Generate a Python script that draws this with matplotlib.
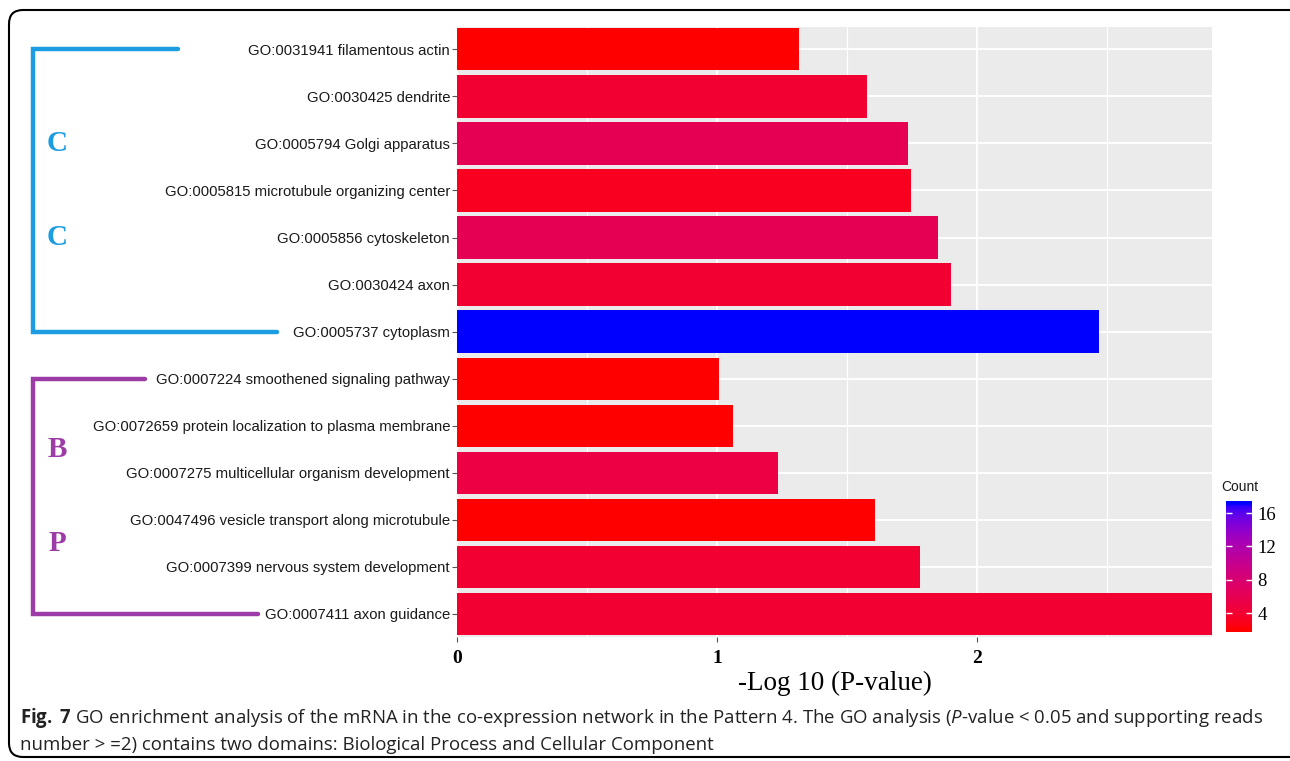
import numpy as np
import matplotlib
matplotlib.use("Agg")
import matplotlib.pyplot as plt
import matplotlib.transforms as mtransforms
from matplotlib.colors import ListedColormap, Normalize
from matplotlib.patches import FancyBboxPatch
from matplotlib.lines import Line2D

# dane (od góry do dołu)
terms = [
    "GO:0031941 filamentous actin",
    "GO:0030425 dendrite",
    "GO:0005794 Golgi apparatus",
    "GO:0005815 microtubule organizing center",
    "GO:0005856 cytoskeleton",
    "GO:0030424 axon",
    "GO:0005737 cytoplasm",
    "GO:0007224 smoothened signaling pathway",
    "GO:0072659 protein localization to plasma membrane",
    "GO:0007275 multicellular organism development",
    "GO:0047496 vesicle transport along microtubule",
    "GO:0007399 nervous system development",
    "GO:0007411 axon guidance",
]
neg_log_p = [1.317, 1.578, 1.736, 1.746, 1.849, 1.900, 2.470,
             1.008, 1.063, 1.236, 1.610, 1.783, 2.905]
counts = [2, 4, 6, 3, 6, 4, 17, 2, 2, 5, 2, 4, 4]

count_ticks = [4, 8, 12, 16]
x_ticks = [0, 1, 2]

# grupy domen GO: (pierwszy, ostatni indeks, litery, pozycje liter, kolor, końce klamry w px)
groups = [
    (0, 6, ["C", "C"], [2, 4], "#1c9de2", (178, 277)),
    (7, 12, ["B", "P"], [8.5, 10.5], "#9c3ca6", (145, 258)),
]

caption = (r"$\mathbf{Fig.}$ $\mathbf{7}$ GO enrichment analysis of the mRNA in the co-expression network in the Pattern 4. "
           r"The GO analysis ($\mathit{P}$-value < 0.05 and supporting reads")
caption2 = "number > =2) contains two domains: Biological Process and Cellular Component"


# gradient jak w ggplot (interpolacja w przestrzeni Lab)
M = np.array([[0.4124, 0.3576, 0.1805],
              [0.2126, 0.7152, 0.0722],
              [0.0193, 0.1192, 0.9505]])
WHITE = np.array([0.95047, 1.0, 1.08883])


def to_lab(rgb):
    rgb = np.asarray(rgb, float)
    lin = np.where(rgb <= 0.04045, rgb / 12.92, ((rgb + 0.055) / 1.055) ** 2.4)
    t = (M @ lin) / WHITE
    f = np.where(t > 0.008856, np.cbrt(t), 7.787 * t + 16 / 116)
    return np.array([116 * f[1] - 16, 500 * (f[0] - f[1]), 200 * (f[1] - f[2])])


def from_lab(lab):
    L, a, b = lab
    fy = (L + 16) / 116
    f = np.array([fy + a / 500, fy, fy - b / 200])
    t = np.where(f ** 3 > 0.008856, f ** 3, (f - 16 / 116) / 7.787)
    lin = np.clip(np.linalg.inv(M) @ (t * WHITE), 0, 1)
    rgb = np.where(lin <= 0.0031308, 12.92 * lin, 1.055 * lin ** (1 / 2.4) - 0.055)
    return np.clip(rgb, 0, 1)


lab_lo, lab_hi = to_lab([1, 0, 0]), to_lab([0, 0, 1])
cmap = ListedColormap([from_lab(lab_lo + (lab_hi - lab_lo) * s) for s in np.linspace(0, 1, 256)])
norm = Normalize(vmin=min(counts), vmax=max(counts))

plt.rcParams['font.family'] = ['Liberation Sans', 'DejaVu Sans']
plt.rcParams['mathtext.fontset'] = 'custom'
plt.rcParams['mathtext.rm'] = 'Open Sans'
plt.rcParams['mathtext.it'] = 'Open Sans:italic'
plt.rcParams['mathtext.bf'] = 'Open Sans:bold'

W, H = 1290, 761
fig = plt.figure(figsize=(W / 100, H / 100), dpi=100)

ax = fig.add_axes([457 / W, 1 - 637 / H, (1212 - 457) / W, (637 - 27) / H])
ax.set_facecolor('#ebebeb')
y = np.arange(len(terms))
ax.barh(y, neg_log_p, height=0.9, color=cmap(norm(counts)), zorder=3)
ax.set_xlim(0, 2.905)
ax.set_ylim(len(terms) - 0.51, -0.474)

ax.set_yticks(y)
ax.set_yticklabels(terms, fontsize=10.7, color='#1a1a1a')
ax.set_xticks(x_ticks)
ax.set_xticklabels([str(v) for v in x_ticks], fontsize=14, fontweight='bold',
                   family='Liberation Serif', color='black')
ax.set_xticks([0.5, 1.5, 2.5], minor=True)
ax.tick_params(axis='both', which='major', length=3.5, width=0.8, color='#555555', pad=1.5)
ax.tick_params(axis='x', which='major', pad=6)
ax.tick_params(axis='x', which='minor', length=0)
ax.grid(True, which='major', color='white', lw=1.3, zorder=1)
ax.grid(True, which='minor', axis='x', color='white', lw=0.8, zorder=1)
ax.set_axisbelow(True)
for s in ax.spines.values():
    s.set_visible(False)

ax.set_xlabel("-Log 10 (P-value)", fontsize=19.5, family='Liberation Serif')
ax.xaxis.set_label_coords(0.5, -0.056)

# klamry z oznaczeniem domen
tr = mtransforms.blended_transform_factory(fig.transFigure, ax.transData)
x0 = 33 / W
for first, last, letters, ly, col, (xe_top, xe_bot) in groups:
    line = Line2D([xe_top / W, x0, x0, xe_bot / W], [first, first, last, last],
                  transform=tr, color=col, lw=3.2, solid_capstyle='round',
                  solid_joinstyle='miter', clip_on=False)
    fig.lines.append(line)
    for letter, yy in zip(letters, ly):
        fig.text(57 / W, yy, letter, transform=tr, color=col, fontsize=21,
                 fontweight='bold', family='Liberation Serif', ha='center', va='center')

# pasek kolorów "Count"
cax = fig.add_axes([1226 / W, 1 - 632 / H, 26 / W, 131 / H])
lo, hi = 1.72, 17.44
grad = np.linspace(lo, hi, 300)[:, None]
cax.imshow(grad, extent=[0, 1, lo, hi], origin='lower', aspect='auto', cmap=cmap, norm=norm)
cax.set_xticks([])
cax.set_yticks(count_ticks)
cax.tick_params(axis='y', left=True, right=True, labelleft=False, labelright=True,
                direction='in', length=4.5, width=1, color='white', pad=4, labelsize=13.5)
for lab in cax.get_yticklabels():
    lab.set_family('Liberation Serif')
for s in cax.spines.values():
    s.set_visible(False)
fig.text(1221 / W, 1 - 487 / H, "Count", fontsize=10, ha='left', va='center', color='#1a1a1a')

# podpis
fig.text(20 / W, 1 - 718 / H, caption, fontsize=13.4, family='Open Sans', color='#222222',
         ha='left', va='center')
fig.text(20 / W, 1 - 745 / H, caption2, fontsize=13.4, family='Open Sans', color='#222222',
         ha='left', va='center')

# ramka z zaokrąglonymi rogami
frame = FancyBboxPatch((9, H - 757), 1320, 747, boxstyle="round,pad=0,rounding_size=14",
                       transform=mtransforms.IdentityTransform(), fill=False, lw=1.5,
                       ec='black')
fig.patches.append(frame)

fig.savefig('out.png', dpi=100)
